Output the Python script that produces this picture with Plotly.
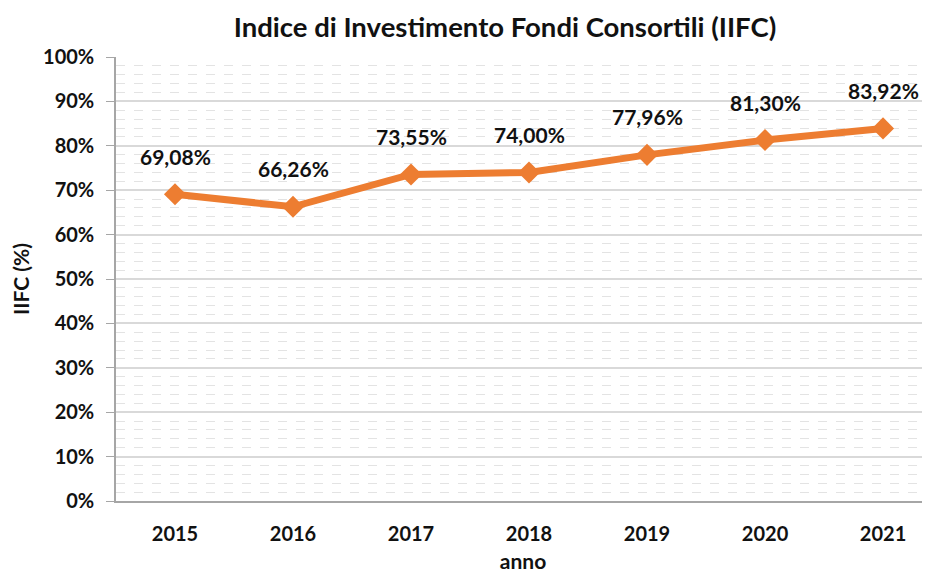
import plotly.graph_objects as go

anni = ["2015", "2016", "2017", "2018", "2019", "2020", "2021"]
iifc = [69.08, 66.26, 73.55, 74.00, 77.96, 81.30, 83.92]
etichette = [f"{v:.2f}%".replace(".", ",") for v in iifc]

ORANGE = "#ED7D31"
FONT = "Lato"

fig = go.Figure()
fig.add_trace(go.Scatter(
    x=list(range(len(anni))), y=iifc,
    mode="lines+markers",
    line=dict(color=ORANGE, width=7),
    marker=dict(symbol="diamond", size=17, color=ORANGE),
    hoverinfo="skip", showlegend=False,
))

# etichette dati sopra i punti
for i, (v, t) in enumerate(zip(iifc, etichette)):
    fig.add_annotation(x=i, y=v, text=t, showarrow=False, yshift=38,
                       font=dict(family=FONT, size=21, color="#111111", weight="bold"))

# la pagina ha un margine di 8px: figura un po' più piccola
fig.update_layout(
    width=922, height=565,
    paper_bgcolor="white", plot_bgcolor="white",
    margin=dict(l=108, r=0, t=49, b=72, autoexpand=False),
    title=dict(text="Indice di Investimento Fondi Consortili (IIFC)",
               x=0.539, xanchor="center", y=0.965, yanchor="middle",
               font=dict(family=FONT, size=27.5, color="#111111", weight="bold")),
    font=dict(family=FONT, color="#111111"),
)

fig.update_xaxes(
    range=[-0.5, 6.398], automargin=False,
    tickmode="array", tickvals=list(range(len(anni))), ticktext=anni,
    tickfont=dict(family=FONT, size=20, weight="bold"),
    ticks="", ticklabelstandoff=14,
    showgrid=False, zeroline=False,
    showline=True, linecolor="#A6A6A6", linewidth=1.5,
    title=dict(text="anno", font=dict(family=FONT, size=21, weight="bold"), standoff=12),
)

fig.update_yaxes(
    range=[0, 100], dtick=10, automargin=False,
    ticksuffix="%",
    tickfont=dict(family=FONT, size=20, weight="bold"),
    ticks="outside", ticklen=8, tickcolor="#A6A6A6", ticklabelstandoff=8,
    showgrid=True, gridcolor="#D9D9D9", gridwidth=1.5,
    minor=dict(dtick=2, showgrid=True, gridcolor="#E3E3E3", griddash="dash", gridwidth=1, ticks=""),
    zeroline=False,
    showline=True, linecolor="#A6A6A6", linewidth=1.5,
    title=dict(text="IIFC (%)", font=dict(family=FONT, size=21, weight="bold"), standoff=12),
)

fig.write_html("out.html")
